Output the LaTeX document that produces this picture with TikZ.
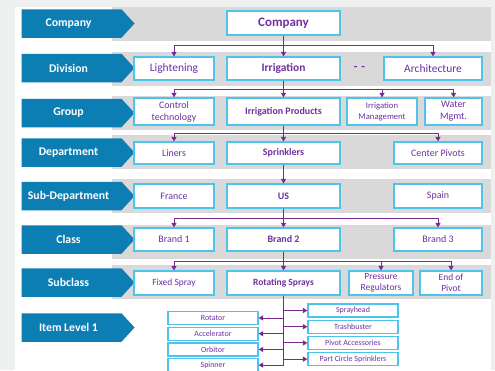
\documentclass[tikz,border=0pt]{standalone}
\usepackage{fontspec}
\setmainfont{Carlito}
\usetikzlibrary{positioning, arrows.meta, shapes.symbols}
\definecolor{PageGray}{HTML}{EEF0EF}
\definecolor{BandGray}{HTML}{D9D9D9}
\definecolor{LevelBlue}{HTML}{0C7EB4}
\definecolor{BoxCyan}{HTML}{4EC3EC}
\definecolor{OrgPurple}{HTML}{7030A0}
\definecolor{LinkPurple}{HTML}{7A2A8C}

\begin{document}
\begin{tikzpicture}[
        x=1bp, y=-1bp,
        level/.style={
            signal, signal to=east, signal pointer angle=95, fill=LevelBlue,
            text=white, minimum width=113bp, minimum height=28.5bp, inner sep=0pt,
            font=\fontsize{11.8}{13}\selectfont\bfseries
        },
        unit/.style={
            rectangle, draw=BoxCyan, line width=1.2bp, fill=white, text=OrgPurple,
            align=center, inner sep=0pt, font=\fontsize{10}{12}\selectfont
        },
        narrow/.style={unit, minimum width=80bp},
        wide/.style={unit, minimum width=113bp},
        item/.style={unit, minimum width=90bp, minimum height=13bp, font=\fontsize{8}{9}\selectfont},
        link/.style={-{Triangle[length=4.5bp,width=5bp]}, draw=LinkPurple, line width=1bp}
    ]
    \useasboundingbox (0,0) rectangle (495,370);

    % Page and bands
    \fill[PageGray] (0,0) rectangle (495,370);
    \fill[white] (15,7) rectangle (491,370);
    \fill[BandGray] (112,7) rectangle (491,41);
    \fill[BandGray] (112,52) rectangle (491,86);
    \fill[BandGray] (112,96) rectangle (491,130);
    \fill[BandGray] (112,135) rectangle (491,169);
    \fill[BandGray] (112,179) rectangle (491,213);
    \fill[BandGray] (112,225) rectangle (491,259);
    \fill[BandGray] (112,265) rectangle (491,299);

    % Level labels
    \node (lvlCompany) [level] at (71.5,23.5) {Company\hspace*{6bp}};
    \node (lvlDivision) [level] at (71.5,68) {Division\hspace*{6bp}};
    \node (lvlGroup) [level] at (71.5,113) {Group\hspace*{6bp}};
    \node (lvlDepartment) [level] at (71.5,152.5) {Department\hspace*{6bp}};
    \node (lvlSubDepartment) [level] at (71.5,196) {Sub-Department\hspace*{6bp}};
    \node (lvlClass) [level] at (71.5,239.5) {Class\hspace*{6bp}};
    \node (lvlSubclass) [level] at (71.5,282.5) {Subclass\hspace*{6bp}};
    \node (lvlItem) [level] at (71.5,327.5) {Item Level 1\hspace*{6bp}};

    % Company
    \node (company) [wide, minimum height=24bp, font=\fontsize{13}{14}\selectfont\bfseries] at (283.5,23) {Company};

    % Division
    \node (lightening) [narrow, minimum height=23bp, font=\fontsize{11.5}{13}\selectfont] at (174,68.5) {Lightening};
    \node (irrigation) [wide, minimum height=23bp, font=\fontsize{11.5}{13}\selectfont\bfseries] at (283.5,68.5) {Irrigation};
    \node (gap) [text=OrgPurple, font=\fontsize{12}{13}\selectfont\bfseries] at (359.5,68.5) {-\hspace{4bp}-};
    \node (architecture) [unit, minimum width=98bp, minimum height=23bp, font=\fontsize{11.5}{13}\selectfont] at (433,68.5) {Architecture};

    % Group
    \node (control) [narrow, minimum height=27bp] at (174,111.5) {Control\\technology};
    \node (irrproducts) [wide, minimum height=27bp] at (283.5,111.5) {\textbf{Irrigation Products}};
    \node (irrmgmt) [unit, minimum width=70bp, minimum height=27bp, font=\fontsize{8.7}{11}\selectfont] at (382,111.5) {Irrigation\\Management};
    \node (water) [unit, minimum width=57bp, minimum height=27bp] at (453.5,111.5) {Water\\Mgmt.};

    % Department
    \node (liners) [narrow, minimum height=22bp] at (174,153) {Liners};
    \node (sprinklers) [wide, minimum height=22bp] at (283.5,153) {\textbf{Sprinklers}};
    \node (pivots) [unit, minimum width=88bp, minimum height=22bp] at (438,153) {Center Pivots};

    % Sub-Department
    \node (france) [narrow, minimum height=24bp] at (174,196) {France};
    \node (us) [wide, minimum height=24bp] at (283.5,196) {\textbf{US}};
    \node (spain) [unit, minimum width=88bp, minimum height=24bp] at (438,196) {Spain};

    % Class
    \node (brand1) [narrow, minimum height=23bp] at (174,239.5) {Brand 1};
    \node (brand2) [wide, minimum height=23bp] at (283.5,239.5) {\textbf{Brand 2}};
    \node (brand3) [unit, minimum width=88bp, minimum height=23bp] at (438,239.5) {Brand 3};

    % Subclass
    \node (fixed) [narrow, minimum height=24bp, font=\fontsize{9.5}{11.5}\selectfont] at (174,283) {Fixed Spray};
    \node (rotating) [wide, minimum height=24bp, font=\fontsize{9.5}{11.5}\selectfont] at (283.5,283) {\textbf{Rotating Sprays}};
    \node (pressure) [unit, minimum width=64bp, minimum height=24bp, font=\fontsize{9.5}{11.5}\selectfont] at (381,283) {Pressure\\Regulators};
    \node (endpivot) [unit, minimum width=62bp, minimum height=24bp, font=\fontsize{9.5}{11.5}\selectfont] at (451,283) {End of\\Pivot};

    % Item level 1
    \node (rotator) [item] at (213,318) {Rotator};
    \node (accelerator) [item, below=1.5bp of rotator] {Accelerator};
    \node (orbitor) [item, below=1.5bp of accelerator] {Orbitor};
    \node (spinner) [item, below=1.5bp of orbitor] {Spinner};
    \node (sprayhead) [item] at (353,310.5) {Sprayhead};
    \node (trashbuster) [item, below=2bp of sprayhead] {Trashbuster};
    \node (pivotacc) [item, below=2bp of trashbuster] {Pivot Accessories};
    \node (partcircle) [item, below=2bp of pivotacc] {Part Circle Sprinklers};

    % Bus heights
    \coordinate (bus1) at (283.5,45);
    \coordinate (bus2) at (283.5,89);
    \coordinate (bus3) at (283.5,133.5);
    \coordinate (bus5) at (283.5,218);
    \coordinate (bus6) at (283.5,261);

    % Arrows between levels
    \draw [link] (company.south) |- (lightening.north |- bus1) -- (lightening.north);
    \draw [link] (company.south) -- (irrigation.north);
    \draw [link] (company.south) |- (architecture.north |- bus1) -- (architecture.north);

    \draw [link] (irrigation.south) |- (control.north |- bus2) -- (control.north);
    \draw [link] (irrigation.south) -- (irrproducts.north);
    \draw [link] (irrigation.south) |- (irrmgmt.north |- bus2) -- (irrmgmt.north);
    \draw [link] (irrigation.south) |- (water.north |- bus2) -- (water.north);

    \draw [link] (irrproducts.south) |- (liners.north |- bus3) -- (liners.north);
    \draw [link] (irrproducts.south) -- (sprinklers.north);
    \draw [link] (irrproducts.south) |- (pivots.north |- bus3) -- (pivots.north);

    \draw [link] (sprinklers.south) -- (us.north);

    \draw [link] (us.south) |- (brand1.north |- bus5) -- (brand1.north);
    \draw [link] (us.south) -- (brand2.north);
    \draw [link] (us.south) |- (brand3.north |- bus5) -- (brand3.north);

    \draw [link] (brand2.south) |- (fixed.north |- bus6) -- (fixed.north);
    \draw [link] (brand2.south) -- (rotating.north);
    \draw [link] (brand2.south) |- (pressure.north |- bus6) -- (pressure.north);
    \draw [link] (brand2.south) |- (endpivot.north |- bus6) -- (endpivot.north);

    % Items
    \draw [link] (rotating.south) |- (rotator.east);
    \draw [link] (rotating.south) |- (accelerator.east);
    \draw [link] (rotating.south) |- (orbitor.east);
    \draw [link] (rotating.south) |- (spinner.east);
    \draw [link] (rotating.south) |- (sprayhead.west);
    \draw [link] (rotating.south) |- (trashbuster.west);
    \draw [link] (rotating.south) |- (pivotacc.west);
    \draw [link] (rotating.south) |- (partcircle.west);

\end{tikzpicture}
\end{document}
